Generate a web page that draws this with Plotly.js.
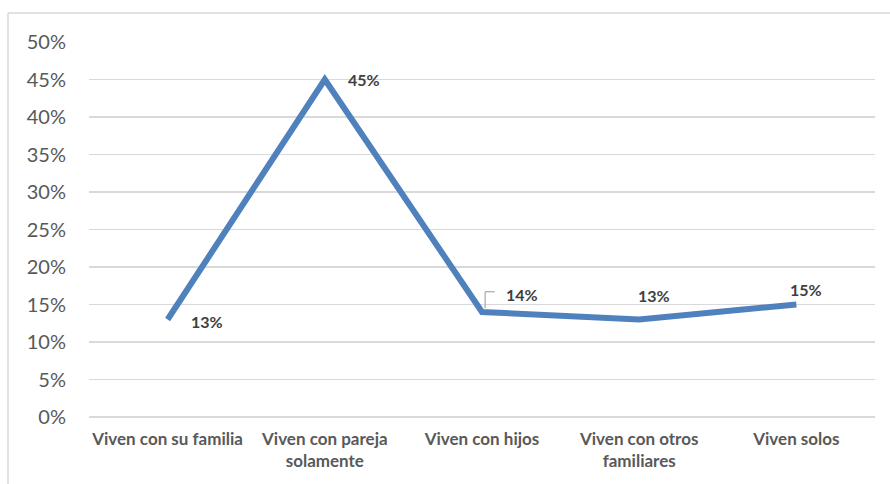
<!DOCTYPE html>
<html><head><meta charset="utf-8">
<script src="https://cdn.plot.ly/plotly-3.0.1.min.js"></script>
<style>html,body{margin:0;padding:0;background:#fff;}#chart{width:890px;height:484px;}</style>
</head><body><div id="chart"></div>
<script>
const categories = ["Viven con su familia", "Viven con pareja<br>solamente", "Viven con hijos", "Viven con otros<br>familiares", "Viven solos"];
const values = [0.13, 0.45, 0.14, 0.13, 0.15];
const labels = ["13%", "45%", "14%", "13%", "15%"];
const labelShift = [[39, -2], [39, 0], [40, 18], [15, 24], [10, 15]];

const labelColor = "#404040";
const fam = "Lato, 'Open Sans', sans-serif";
const annotations = categories.map((c, i) => ({
  x: c, y: values[i], xref: "x", yref: "y", text: "<b>" + labels[i] + "</b>",
  showarrow: false, xshift: labelShift[i][0], yshift: labelShift[i][1],
  font: {family: fam, size: 16, color: labelColor}
}));

const W = 786, H = 375;
const shapes = [
  {type: "line", xref: "paper", yref: "paper", x0: -81/W, x1: 1 + 20/W, y0: 1 + 29/H, y1: 1 + 29/H,
   line: {color: "#d9d9d9", width: 1.5}, layer: "below"},
  {type: "line", xref: "paper", yref: "paper", x0: -81/W, x1: -81/W, y0: 1 + 29/H, y1: -70/H,
   line: {color: "#d9d9d9", width: 1.5}, layer: "below"},
  {type: "line", xref: "x", yref: "y", x0: categories[2], x1: categories[2], x0shift: 0.02, x1shift: 0.02,
   y0: 0.145, y1: 0.167, line: {color: "#a6a6a6", width: 1.2}},
  {type: "line", xref: "x", yref: "y", x0: categories[2], x1: categories[2], x0shift: 0.02, x1shift: 0.08,
   y0: 0.167, y1: 0.167, line: {color: "#a6a6a6", width: 1.2}}
];

Plotly.newPlot("chart", [{
  x: categories, y: values, type: "scatter", mode: "lines",
  line: {color: "#4f81bd", width: 6}, hoverinfo: "none"
}], {
  width: 890, height: 484,
  margin: {l: 89, r: 15, t: 42, b: 67},
  paper_bgcolor: "#fff", plot_bgcolor: "#fff",
  showlegend: false,
  xaxis: {type: "category", showgrid: false, zeroline: false, showline: false, ticks: "",
    ticklabelstandoff: 10,
    tickfont: {family: fam, size: 17, color: "#595959", weight: "bold"},
    range: [-0.5, 4.5], fixedrange: true},
  yaxis: {range: [0, 0.5], dtick: 0.05, tickformat: ".0%", showgrid: true, gridcolor: "#d9d9d9", gridwidth: 1.5,
    zeroline: true, zerolinecolor: "#d9d9d9", zerolinewidth: 1.5, showline: false, ticks: "",
    ticklabelstandoff: 22,
    tickfont: {family: fam, size: 20, color: "#595959"}, fixedrange: true},
  annotations: annotations,
  shapes: shapes
}, {staticPlot: true});
</script></body></html>
